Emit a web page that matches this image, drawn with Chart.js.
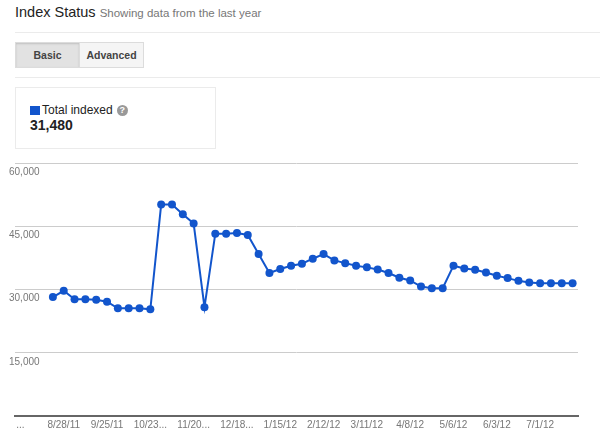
<!DOCTYPE html>
<html>
<head>
<meta charset="utf-8">
<script src="https://cdn.jsdelivr.net/npm/chart.js@4/dist/chart.umd.min.js"></script>
<style>
  body { margin: 0; width: 600px; height: 444px; background: #fff; font-family: Arial, "Liberation Sans", sans-serif; position: relative; overflow: hidden; }
  .title { position: absolute; left: 15px; top: 4px; font-size: 14.5px; color: #222; white-space: nowrap; }
  .title span { font-size: 11.5px; color: #777; }
  .rule { position: absolute; left: 15px; right: 0; height: 1px; background: #ebebeb; }
  .tabs { position: absolute; left: 15px; top: 42px; height: 26px; display: flex; }
  .tab { height: 24px; line-height: 24px; font-size: 10.5px; font-weight: bold; color: #444; text-align: center; border: 1px solid #dcdcdc; }
  .tab.on { width: 63px; background: #e2e2e2; box-shadow: inset 0 1px 2px rgba(0,0,0,.15); }
  .tab.off { width: 63px; background: #f5f5f5; border-left: none; }
  .box { position: absolute; left: 15px; top: 87px; width: 199px; height: 60px; border: 1px solid #ebebeb; }
  .legend { position: absolute; left: 14px; top: 15px; font-size: 12px; color: #222; white-space: nowrap; }
  .sw { display: inline-block; width: 10px; height: 9px; background: #1255cc; margin-right: 2px; vertical-align: -1px; }
  .help { display: inline-block; width: 11px; height: 11px; border-radius: 50%; background: #999; color: #fff; font-size: 9px; line-height: 11px; text-align: center; font-weight: bold; margin-left: 4px; vertical-align: 1px; }
  .total { position: absolute; left: 14px; top: 29px; font-size: 14px; font-weight: bold; color: #222; }
  #wrap { position: absolute; left: 0; top: 150px; width: 600px; height: 294px; }
</style>
</head>
<body>
<div class="title">Index Status <span>Showing data from the last year</span></div>
<div class="rule" style="top:32px"></div>
<div class="tabs"><div class="tab on">Basic</div><div class="tab off">Advanced</div></div>
<div class="rule" style="top:77px"></div>
<div class="box">
  <div class="legend"><span class="sw"></span>Total indexed<span class="help">?</span></div>
  <div class="total">31,480</div>
</div>
<div id="wrap"><canvas id="indexChart"></canvas></div>
<script>
// weekly totals, second point is the week of 8/28/11
const values = [
  28200, 29700, 27700, 27700, 27550, 27100, 25550, 25550, 25550, 25300,
  50150, 50150, 47850, 45650, 25800, 43250, 43250, 43400, 42950, 38400,
  33900, 34850, 35650, 36100, 37300, 38400, 36900, 36250, 35650, 35250,
  34750, 33900, 32800, 32150, 30700, 30300, 30300, 35650, 35000, 34700,
  34050, 33250, 32700, 32050, 31650, 31500, 31500, 31500, 31480
];
const tickLabels = ['...', '8/28/11', '9/25/11', '10/23...', '11/20...', '12/18...', '1/15/12',
  '2/12/12', '3/11/12', '4/8/12', '5/6/12', '6/3/12', '7/1/12'];
const tickWeeks = [-3, 1, 5, 9, 13, 17, 21, 25, 29, 33, 37, 41, 45];
const yTicks = [0, 15000, 30000, 45000, 60000];

const blue = '#1255cc';
const points = values.map((v, i) => ({ x: i, y: v }));

new Chart(document.getElementById('indexChart'), {
  type: 'line',
  data: {
    datasets: [{
      label: 'Total indexed',
      data: points,
      borderColor: blue,
      backgroundColor: blue,
      borderWidth: 2,
      pointRadius: 4,
      pointBorderWidth: 0,
      tension: 0
    }]
  },
  options: {
    responsive: true,
    maintainAspectRatio: false,
    animation: false,
    layout: { padding: { left: 15, right: 22, top: 13, bottom: 10 } },
    plugins: { legend: { display: false }, tooltip: { enabled: false } },
    scales: {
      x: {
        type: 'linear',
        min: -3.5,
        max: 48.5,
        afterBuildTicks: axis => { axis.ticks = tickWeeks.map(v => ({ value: v })); },
        ticks: {
          color: '#777',
          font: { family: 'Arial', size: 10 },
          padding: 3,
          maxRotation: 0,
          autoSkip: false,
          callback: (v) => tickLabels[tickWeeks.indexOf(v)]
        },
        grid: { display: false, drawTicks: false },
        border: { color: '#666', width: 2 }
      },
      y: {
        min: 0,
        max: 60000,
        afterBuildTicks: axis => { axis.ticks = yTicks.map(v => ({ value: v })); },
        ticks: {
          mirror: true,
          padding: -2,
          labelOffset: 9,
          color: '#777',
          font: { family: 'Arial', size: 10 },
          callback: v => v === 0 ? '' : v.toLocaleString('en-US')
        },
        grid: { color: '#ccc', drawTicks: false },
        border: { display: false }
      }
    }
  }
});
</script>
</body>
</html>
